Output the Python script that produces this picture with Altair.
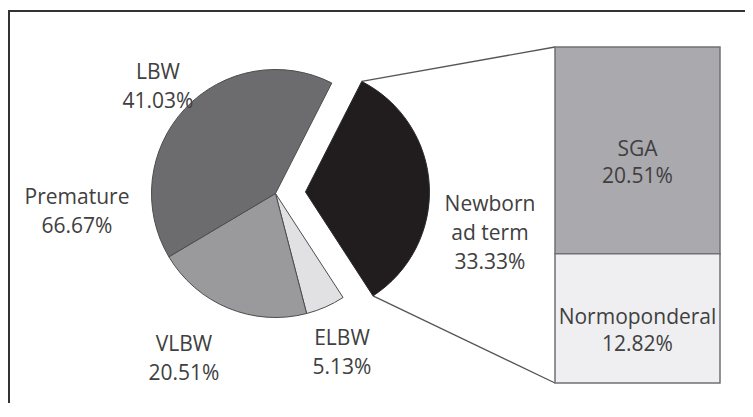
import math
import altair as alt
import pandas as pd

# ---------------- data ----------------
pie_labels = ["Newborn ad term", "ELBW", "VLBW", "LBW"]
pie_values = [33.33, 5.13, 20.51, 41.03]
pie_groups = ["Term", "Premature", "Premature", "Premature"]
pie_texts = ["Newborn\nad term\n33.33%", "ELBW\n5.13%", "VLBW\n20.51%", "LBW\n41.03%"]

bar_labels = ["SGA", "Normoponderal"]
bar_values = [20.51, 12.82]

summary_label = "Premature"
summary_value = 66.67

# ---------------- styles / layout ----------------
pie_colors = ["#211d1e", "#e1e1e3", "#9a9a9c", "#6c6c6f"]
bar_colors = ["#aaa9ae", "#efeff1"]
FONT = "Open Sans"
FS = 21
TXT = "#404040"
W, H = 737, 395
CX, CY, R = 267.5, 185.5, 124
EXPLODE = 30
START_DEG = 27
BAR_X0, BAR_X1, BAR_Y0, BAR_Y1 = 547, 712, 39, 375
# label anchor points (layout)
pie_label_pos = {"Newborn ad term": (482, 197), "ELBW": (334, 331),
                 "VLBW": (176, 337), "LBW": (150, 65)}
summary_pos = (69, 190)
bar_label_dy = [7, 5]

# ---------------- derived ----------------
total = sum(pie_values)
start = math.radians(START_DEG)
term_span = 2 * math.pi * pie_values[0] / total
mid = start + term_span / 2
BX = CX + EXPLODE * math.sin(mid)
BY = CY - EXPLODE * math.cos(mid)
top_corner = (BX + R * math.sin(start), BY - R * math.cos(start))
bot_corner = (BX + R * math.sin(start + term_span), BY - R * math.cos(start + term_span))

pie_df = pd.DataFrame({
    "label": pie_labels, "value": pie_values, "group": pie_groups,
    "order": list(range(len(pie_labels))), "text": pie_texts,
    "lx": [pie_label_pos[l][0] for l in pie_labels],
    "ly": [pie_label_pos[l][1] for l in pie_labels],
})

bar_df = pd.DataFrame({
    "label": bar_labels, "value": bar_values,
    "order": list(range(len(bar_labels))),
    "text": [f"{l}\n{v:.2f}%" for l, v in zip(bar_labels, bar_values)],
    "dy": bar_label_dy,
})

theta = alt.Theta("value:Q", stack=True,
                  scale=alt.Scale(range=[start, start + 2 * math.pi]))
pie_fill = alt.Fill("label:N", scale=alt.Scale(domain=pie_labels, range=pie_colors), legend=None)

arcs_main = alt.Chart(pie_df).mark_arc(outerRadius=R, stroke="#4d4d4f", strokeWidth=1).encode(
    theta=theta, fill=pie_fill, order=alt.Order("order:Q"),
    opacity=alt.condition("datum.group == 'Premature'", alt.value(1), alt.value(0)),
    x=alt.value(CX), y=alt.value(CY),
)
arcs_expl = alt.Chart(pie_df).mark_arc(outerRadius=R, stroke="#2a2a2a", strokeWidth=1).encode(
    theta=theta, fill=pie_fill, order=alt.Order("order:Q"),
    opacity=alt.condition("datum.group == 'Premature'", alt.value(0), alt.value(1)),
    x=alt.value(BX), y=alt.value(BY),
)

pie_text = alt.Chart(pie_df).mark_text(
    font=FONT, fontSize=FS, color=TXT, lineBreak="\n", lineHeight=29,
    align="center", baseline="middle",
).encode(
    x=alt.X("lx:Q", scale=None), y=alt.Y("ly:Q", scale=None), text="text:N",
)

summary_df = pd.DataFrame({"text": [f"{summary_label}\n{summary_value:.2f}%"]})
summary_text = alt.Chart(summary_df).mark_text(
    font=FONT, fontSize=FS, color=TXT, lineBreak="\n", lineHeight=29,
    align="center", baseline="middle",
).encode(x=alt.value(summary_pos[0]), y=alt.value(summary_pos[1]), text="text:N")

ybar = alt.Scale(domain=[0, sum(bar_values)], range=[BAR_Y0, BAR_Y1], nice=False, zero=False)

bar_base = alt.Chart(bar_df).transform_stack(
    stack="value", groupby=[], as_=["v0", "v1"], sort=[alt.SortField("order", "ascending")]
).transform_calculate(mid="(datum.v0 + datum.v1) / 2")

bars = bar_base.mark_rect(stroke="#707072", strokeWidth=1.5).encode(
    x=alt.value(BAR_X0), x2=alt.value(BAR_X1),
    y=alt.Y("v0:Q", scale=ybar, axis=None), y2="v1:Q",
    color=alt.Color("label:N", scale=alt.Scale(domain=bar_labels, range=bar_colors), legend=None),
)
bar_text = bar_base.mark_text(
    font=FONT, fontSize=FS, color=TXT, lineBreak="\n", lineHeight=27,
    align="center", baseline="middle",
).encode(
    x=alt.value((BAR_X0 + BAR_X1) / 2),
    y=alt.Y("mid:Q", scale=ybar, axis=None),
    yOffset=alt.YOffset("dy:Q", scale=None),
    text="text:N",
)

rule_top = alt.Chart(pd.DataFrame({"k": [0]})).mark_rule(color="#555555", strokeWidth=1.3).encode(
    x=alt.value(top_corner[0]), y=alt.value(top_corner[1]),
    x2=alt.value(BAR_X0), y2=alt.value(BAR_Y0),
)
rule_bot = alt.Chart(pd.DataFrame({"k": [0]})).mark_rule(color="#555555", strokeWidth=1.3).encode(
    x=alt.value(bot_corner[0]), y=alt.value(bot_corner[1]),
    x2=alt.value(BAR_X0), y2=alt.value(BAR_Y1),
)

border = alt.Chart(pd.DataFrame({"k": [0]})).mark_rect(
    fillOpacity=0, stroke="#333333", strokeWidth=2
).encode(x=alt.value(1), y=alt.value(3), x2=alt.value(W + 40), y2=alt.value(H + 60))

chart = alt.layer(
    border, rule_top, rule_bot, bars, arcs_main, arcs_expl, pie_text, summary_text, bar_text
).resolve_scale(
    color="independent", fill="independent"
).properties(
    width=W, height=H, autosize=alt.AutoSizeParams(type="none"), padding=0, background="white",
).configure_view(stroke=None)

chart.save("out.html", embed_options={"renderer": "svg", "actions": False})
